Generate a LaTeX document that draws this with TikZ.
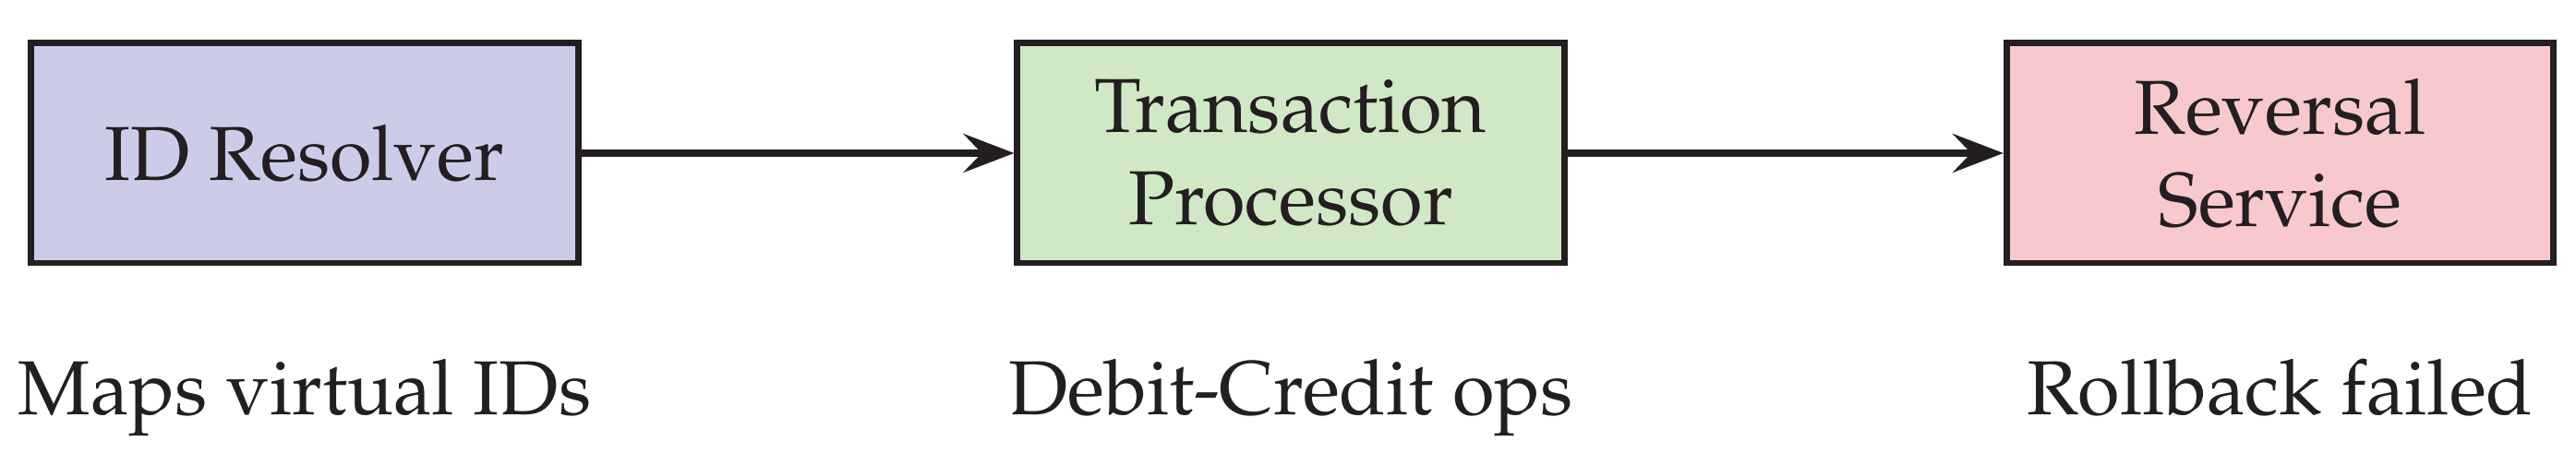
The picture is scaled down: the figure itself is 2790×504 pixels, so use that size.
\documentclass[tikz,border=0pt]{standalone}
\usepackage[T1]{fontenc}
\usepackage{mathpazo}
\usetikzlibrary{arrows.meta}
\definecolor{boxA}{HTML}{CDCCE8}
\definecolor{boxB}{HTML}{D1E8C7}
\definecolor{boxC}{HTML}{F8C9CC}
\definecolor{edgeC}{HTML}{231F20}
\begin{document}
\begin{tikzpicture}[x=0.01cm,y=-0.01cm,
  stagebox/.style={draw=edgeC, line width=1.95pt, minimum width=5.92cm, minimum height=2.38cm, align=center, inner sep=0pt, text=edgeC, font=\fontsize{23.6}{28.45}\selectfont},
  note/.style={anchor=base, inner sep=0pt, text=edgeC, font=\fontsize{23.6}{28.45}\selectfont},
  flow/.style={draw=edgeC, line width=2pt, -{Stealth[length=0.55cm,width=0.42cm,inset=0.2cm]}}]
\useasboundingbox (0,0) rectangle (2790,504);
\node[stagebox, fill=boxA] (res) at (330,166) {ID Resolver};
\node[stagebox, fill=boxB] (proc) at (1398,166) {Transaction\\Processor};
\node[stagebox, fill=boxC] (rev) at (2469.5,166) {Reversal\\Service};
\node[note] (nres) at (330,450) {Maps virtual IDs};
\node[note] (nproc) at (1398,450) {Debit-Credit ops};
\node[note] (nrev) at (2469.5,450) {Rollback failed};
\draw[flow] (res) -- (proc);
\draw[flow] (proc) -- (rev);
\end{tikzpicture}
\end{document}
